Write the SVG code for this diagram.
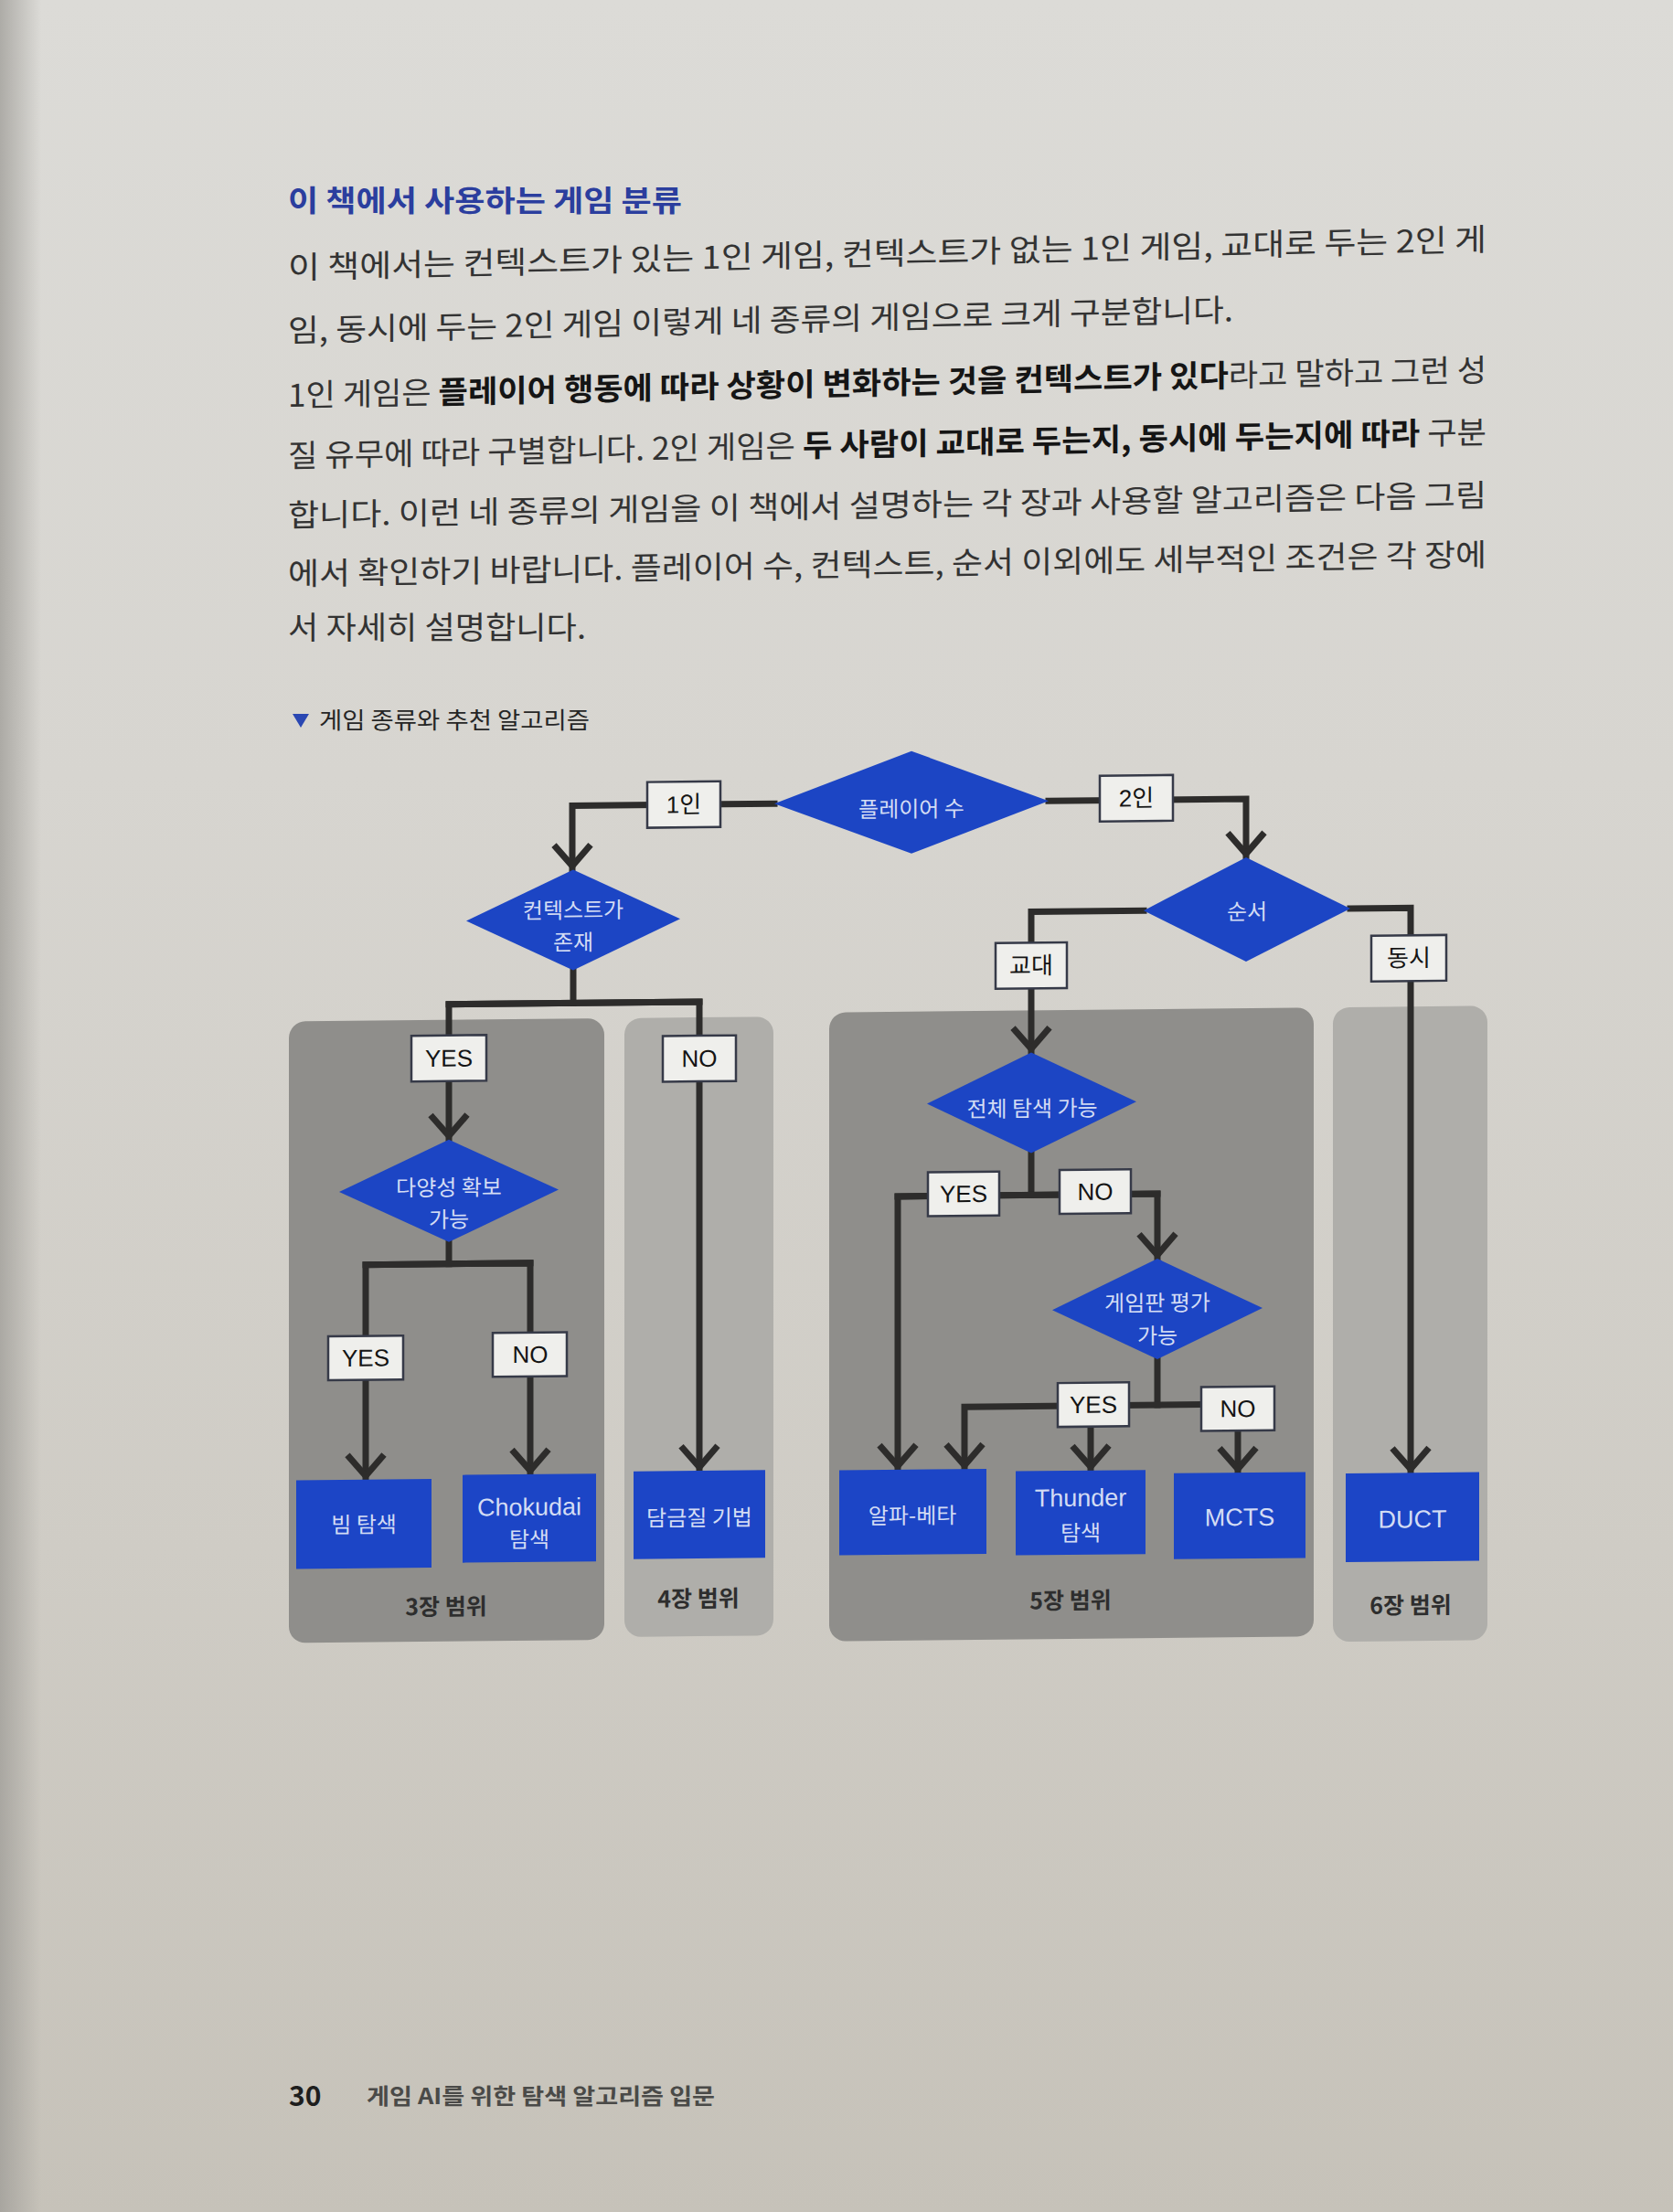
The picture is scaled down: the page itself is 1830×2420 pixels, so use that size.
<svg xmlns="http://www.w3.org/2000/svg" width="1830" height="2420" viewBox="0 0 1830 2420">
<defs>
<linearGradient id="page" x1="0" y1="0" x2="0" y2="1">
<stop offset="0" stop-color="#dcdbd7"/>
<stop offset="0.35" stop-color="#d7d5d0"/>
<stop offset="0.7" stop-color="#cfccc5"/>
<stop offset="1" stop-color="#c6c2b9"/>
</linearGradient>
<linearGradient id="edge" x1="0" y1="0" x2="1" y2="0">
<stop offset="0" stop-color="#9e9c97" stop-opacity="0.75"/>
<stop offset="1" stop-color="#9e9c97" stop-opacity="0"/>
</linearGradient>
<marker id="arr" markerUnits="userSpaceOnUse" markerWidth="70" markerHeight="70" viewBox="-35 -35 70 70" refX="0" refY="0" orient="auto" overflow="visible">
<path d="M-27,-20 L-4,0 L-27,20" fill="none" stroke="#2d2c2b" stroke-width="7" stroke-linejoin="miter"/>
</marker>
<style>
.body{font-family:"Noto Sans CJK KR","Noto Sans",sans-serif;font-size:34px;fill:#333;}
.bd{font-weight:700;fill:#151515;}
.title{font-family:"Noto Sans CJK KR","Noto Sans",sans-serif;font-size:32px;font-weight:700;fill:#2b3e9e;}
.cap{font-family:"Noto Sans CJK KR","Noto Sans",sans-serif;font-size:25px;fill:#262626;}
.panel-dark{fill:#8f8e8b;}
.panel-light{fill:#afaeaa;}
.conn path{fill:none;stroke:#2d2c2b;stroke-width:7;stroke-linecap:square;stroke-linejoin:miter;}
.dia{fill:#1c45c4;}
.blue{fill:#1c45c6;}
.lb{fill:#efefec;stroke:#363a48;stroke-width:2.5;}
.kt{font-family:"Noto Sans CJK KR","Noto Sans",sans-serif;font-size:24px;fill:#d3dcf4;text-anchor:middle;}
.lt{font-family:"Liberation Sans","Noto Sans CJK KR",sans-serif;font-size:27px;fill:#d3dcf4;text-anchor:middle;}
.lbt{font-family:"Liberation Sans","Noto Sans CJK KR",sans-serif;font-size:26px;fill:#141414;text-anchor:middle;}
.scope{font-family:"Noto Sans CJK KR","Noto Sans",sans-serif;font-size:25px;font-weight:700;fill:#2e2e2e;text-anchor:middle;}
.foot{font-family:"Noto Sans CJK KR","Liberation Sans",sans-serif;font-weight:700;}
</style>
</defs>

<rect x="0" y="0" width="1830" height="2420" fill="url(#page)"/>
<rect x="0" y="0" width="45" height="2420" fill="url(#edge)"/>

<g id="header">
<text class="title" x="315" y="231" textLength="431" lengthAdjust="spacingAndGlyphs">이 책에서 사용하는 게임 분류</text>
<text class="body" x="315" y="305" textLength="1311" lengthAdjust="spacingAndGlyphs" transform="matrix(1,-0.0236,0,1,0,7.43)">이 책에서는 컨텍스트가 있는 1인 게임, 컨텍스트가 없는 1인 게임, 교대로 두는 2인 게</text>
<text class="body" x="315" y="374" textLength="1034" lengthAdjust="spacingAndGlyphs" transform="matrix(1,-0.022,0,1,0,6.93)">임, 동시에 두는 2인 게임 이렇게 네 종류의 게임으로 크게 구분합니다.</text>
<text class="body" x="315" y="445" textLength="1311" lengthAdjust="spacingAndGlyphs" transform="matrix(1,-0.0214,0,1,0,6.74)">1인 게임은 <tspan class="bd">플레이어 행동에 따라 상황이 변화하는 것을 컨텍스트가 있다</tspan>라고 말하고 그런 성</text>
<text class="body" x="315" y="511" textLength="1311" lengthAdjust="spacingAndGlyphs" transform="matrix(1,-0.0198,0,1,0,6.24)">질 유무에 따라 구별합니다. 2인 게임은 <tspan class="bd">두 사람이 교대로 두는지, 동시에 두는지에 따라</tspan> 구분</text>
<text class="body" x="315" y="576" textLength="1311" lengthAdjust="spacingAndGlyphs" transform="matrix(1,-0.0168,0,1,0,5.29)">합니다. 이런 네 종류의 게임을 이 책에서 설명하는 각 장과 사용할 알고리즘은 다음 그림</text>
<text class="body" x="315" y="640" textLength="1311" lengthAdjust="spacingAndGlyphs" transform="matrix(1,-0.016,0,1,0,5.04)">에서 확인하기 바랍니다. 플레이어 수, 컨텍스트, 순서 이외에도 세부적인 조건은 각 장에</text>
<text class="body" x="315" y="699" textLength="326" lengthAdjust="spacingAndGlyphs">서 자세히 설명합니다.</text>
</g>

<g id="caption">
<polygon points="320,781 338,781 329,796" fill="#2a47b2"/>
<text class="cap" x="349" y="797" textLength="296" lengthAdjust="spacingAndGlyphs">게임 종류와 추천 알고리즘</text>
</g>

<g id="diagram" transform="matrix(1,-0.01,0,1,0,9.7)">
<g id="panels">
<g id="panel-ch3"><rect class="panel-dark" x="316" y="1111" width="345" height="680" rx="18"/><text class="scope" x="488" y="1762">3장 범위</text></g>
<g id="panel-ch4"><rect class="panel-light" x="683" y="1111" width="163" height="677" rx="18"/><text class="scope" x="764" y="1756">4장 범위</text></g>
<g id="panel-ch5"><rect class="panel-dark" x="907" y="1107" width="530" height="688" rx="18"/><text class="scope" x="1171" y="1762">5장 범위</text></g>
<g id="panel-ch6"><rect class="panel-light" x="1458" y="1107" width="169" height="694" rx="18"/><text class="scope" x="1543" y="1771">6장 범위</text></g>
</g>

<g id="connectors" class="conn">
<path d="M847,878 H626 V948" marker-end="url(#arr)"/>
<path d="M1147,878 H1363 V942" marker-end="url(#arr)"/>
<path d="M1251,999 H1128 V1153" marker-end="url(#arr)"/>
<path d="M1477,999 H1543 V1617" marker-end="url(#arr)"/>
<path d="M627,1058 V1094"/>
<path d="M765,1094 H491 V1242" marker-end="url(#arr)"/>
<path d="M491,1094 H765 V1607" marker-end="url(#arr)"/>
<path d="M491,1354 V1378"/>
<path d="M580,1378 H400 V1613" marker-end="url(#arr)"/>
<path d="M400,1378 H580 V1609" marker-end="url(#arr)"/>
<path d="M1128,1263 V1309"/>
<path d="M1266,1309 H982 V1608" marker-end="url(#arr)"/>
<path d="M982,1309 H1266 V1380" marker-end="url(#arr)"/>
<path d="M1266,1490 V1540"/>
<path d="M1314,1540 H1055 V1608" marker-end="url(#arr)"/>
<path d="M1193,1563 V1611" marker-end="url(#arr)"/>
<path d="M1354,1569 V1615" marker-end="url(#arr)"/>
</g>

<g id="n-players"><polygon class="dia" points="997,822 1147,878 997,934 847,878"/><text class="kt" x="997" y="894">플레이어 수</text></g>
<g id="n-context"><polygon class="dia" points="627,948 744,1003 627,1058 510,1003"/><text class="kt" x="627" y="1001">컨텍스트가</text><text class="kt" x="627" y="1036">존재</text></g>
<g id="n-order"><polygon class="dia" points="1363,942 1477,999 1363,1056 1251,999"/><text class="kt" x="1364" y="1010">순서</text></g>
<g id="n-diversity"><polygon class="dia" points="491,1242 611,1298 491,1354 371,1298"/><text class="kt" x="491" y="1303">다양성 확보</text><text class="kt" x="491" y="1338">가능</text></g>
<g id="n-fullsearch"><polygon class="dia" points="1128,1153 1243,1208 1128,1263 1014,1208"/><text class="kt" x="1129" y="1223">전체 탐색 가능</text></g>
<g id="n-evaluate"><polygon class="dia" points="1266,1380 1381,1435 1266,1490 1151,1435"/><text class="kt" x="1266" y="1437">게임판 평가</text><text class="kt" x="1266" y="1473">가능</text></g>

<g id="l-1p"><rect class="lb" x="708" y="853" width="80" height="50"/><text class="lbt" x="748" y="887">1인</text></g>
<g id="l-2p"><rect class="lb" x="1203" y="851" width="80" height="50"/><text class="lbt" x="1243" y="885">2인</text></g>
<g id="l-turn"><rect class="lb" x="1089" y="1033" width="78" height="50"/><text class="lbt" x="1128" y="1067">교대</text></g>
<g id="l-simul"><rect class="lb" x="1500" y="1029" width="82" height="50"/><text class="lbt" x="1541" y="1063">동시</text></g>
<g id="l-ctx-yes"><rect class="lb" x="450" y="1128" width="82" height="50"/><text class="lbt" x="491" y="1162">YES</text></g>
<g id="l-ctx-no"><rect class="lb" x="725" y="1131" width="80" height="50"/><text class="lbt" x="765" y="1165">NO</text></g>
<g id="l-div-yes"><rect class="lb" x="359" y="1456" width="82" height="48"/><text class="lbt" x="400" y="1489">YES</text></g>
<g id="l-div-no"><rect class="lb" x="539" y="1454" width="81" height="48"/><text class="lbt" x="580" y="1487">NO</text></g>
<g id="l-full-yes"><rect class="lb" x="1015" y="1283" width="78" height="48"/><text class="lbt" x="1054" y="1316">YES</text></g>
<g id="l-full-no"><rect class="lb" x="1159" y="1282" width="78" height="48"/><text class="lbt" x="1198" y="1315">NO</text></g>
<g id="l-eval-yes"><rect class="lb" x="1157" y="1515" width="78" height="48"/><text class="lbt" x="1196" y="1548">YES</text></g>
<g id="l-eval-no"><rect class="lb" x="1314" y="1521" width="80" height="48"/><text class="lbt" x="1354" y="1554">NO</text></g>

<g id="r-beam"><rect class="blue" x="324" y="1613" width="148" height="97"/><text class="kt" x="398" y="1671">빔 탐색</text></g>
<g id="r-chokudai"><rect class="blue" x="506" y="1609" width="146" height="96"/><text class="lt" x="579" y="1654">Chokudai</text><text class="kt" x="579" y="1689">탐색</text></g>
<g id="r-annealing"><rect class="blue" x="693" y="1607" width="144" height="96"/><text class="kt" x="765" y="1667">담금질 기법</text></g>
<g id="r-alphabeta"><rect class="blue" x="918" y="1608" width="161" height="93"/><text class="kt" x="998" y="1667">알파-베타</text></g>
<g id="r-thunder"><rect class="blue" x="1111" y="1611" width="142" height="92"/><text class="lt" x="1182" y="1650">Thunder</text><text class="kt" x="1182" y="1688">탐색</text></g>
<g id="r-mcts"><rect class="blue" x="1284" y="1615" width="144" height="94"/><text class="lt" x="1356" y="1673">MCTS</text></g>
<g id="r-duct"><rect class="blue" x="1472" y="1617" width="146" height="97"/><text class="lt" x="1545" y="1677">DUCT</text></g>
</g>

<g id="footer">
<text class="foot" x="316" y="2304" font-size="30" fill="#1e1e1e">30</text>
<text class="foot" x="401" y="2302" font-size="24" fill="#4a4a48" textLength="381" lengthAdjust="spacingAndGlyphs">게임 AI를 위한 탐색 알고리즘 입문</text>
</g>
</svg>
